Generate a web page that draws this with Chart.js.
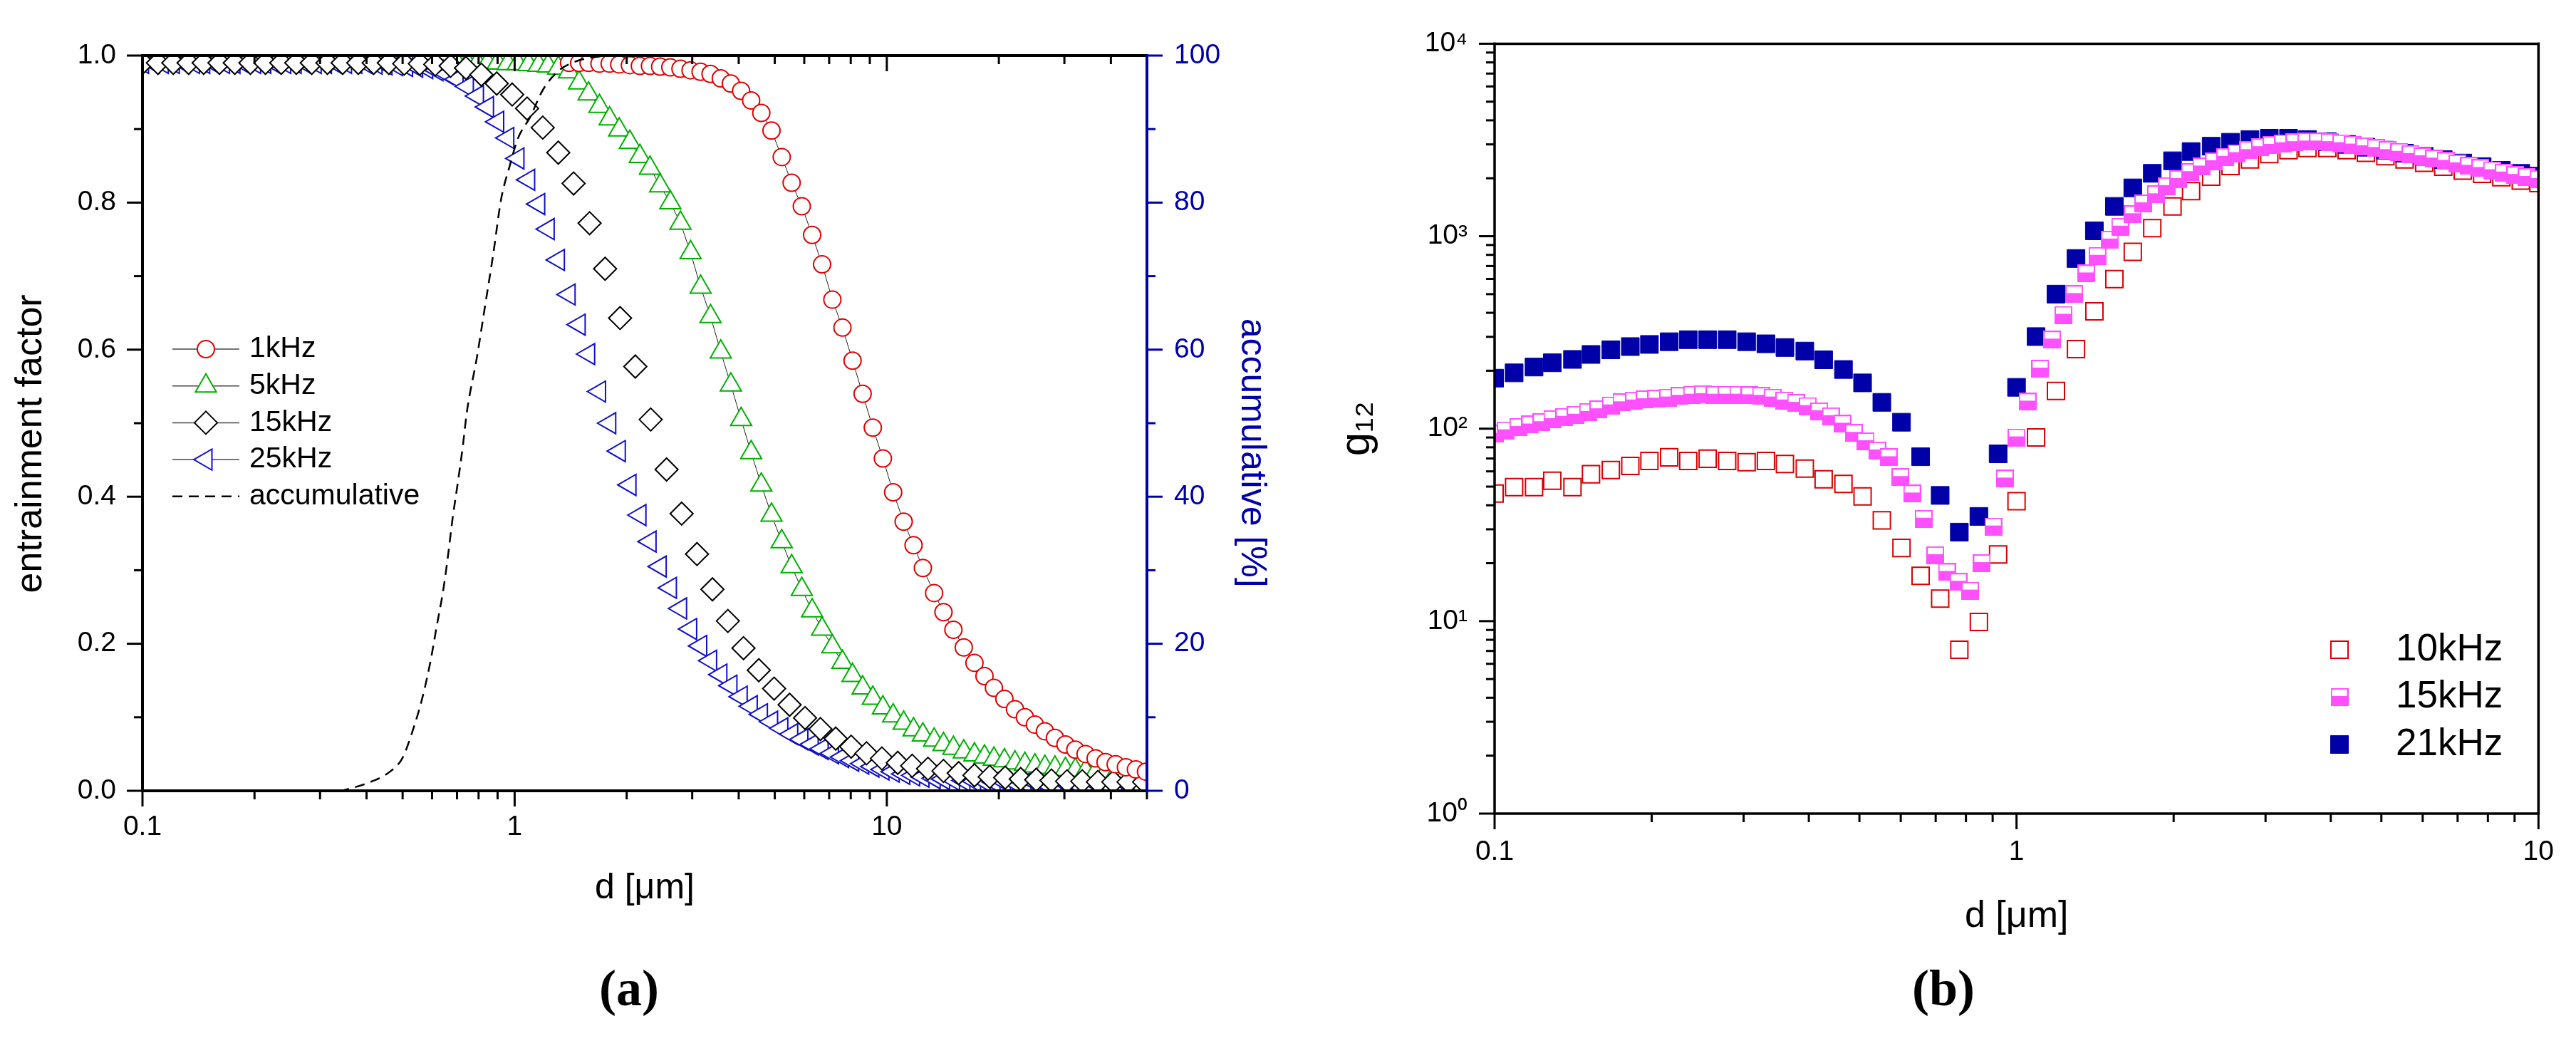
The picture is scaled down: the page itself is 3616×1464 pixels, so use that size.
<!DOCTYPE html>
<html>
<head>
<meta charset="utf-8">
<script src="https://cdn.jsdelivr.net/npm/chart.js"></script>
<style>
    html, body { margin: 0; padding: 0; background: #fff; }
    body { width: 3616px; height: 1464px; position: relative; overflow: hidden; }
    canvas { position: absolute; top: 0; }
    #chartA { left: 0; }
    #chartB { left: 1810px; }
</style>
</head>
<body>
<canvas id="chartA" width="1810" height="1464"></canvas>
<canvas id="chartB" width="1806" height="1464"></canvas>
<script>
// Police et couleur par defaut
Chart.defaults.font.family = '"Liberation Sans", Arial, sans-serif'
Chart.defaults.color = "#000"

const BLUE_AXIS = "#0000aa"

// ---------- Donnees de la figure (a) ----------
// Grille fine des diametres d [µm] (series 1, 5 et 25 kHz)
const dFine = [
    0.100, 0.107, 0.113, 0.121, 0.129, 0.137, 0.146, 0.155, 0.165, 0.176,
    0.187, 0.200, 0.213, 0.226, 0.241, 0.257, 0.273, 0.291, 0.310, 0.330,
    0.351, 0.374, 0.398, 0.424, 0.451, 0.481, 0.512, 0.545, 0.580, 0.618,
    0.658, 0.700, 0.746, 0.794, 0.845, 0.900, 0.958, 1.02, 1.09, 1.16,
    1.23, 1.31, 1.40, 1.49, 1.58, 1.69, 1.80, 1.91, 2.04, 2.17,
    2.31, 2.46, 2.62, 2.79, 2.97, 3.16, 3.36, 3.58, 3.81, 4.06,
    4.32, 4.60, 4.90, 5.22, 5.55, 5.91, 6.30, 6.70, 7.14, 7.60,
    8.09, 8.61, 9.17, 9.76, 10.4, 11.1, 11.8, 12.5, 13.4, 14.2,
    15.1, 16.1, 17.2, 18.3, 19.4, 20.7, 22.1, 23.5, 25.0, 26.6,
    28.3, 30.2, 32.1, 34.2, 36.4, 38.7, 41.2, 43.9, 46.7, 49.7
]
// Grille plus large pour la serie 15 kHz
const dCoarse = [
    0.100, 0.110, 0.121, 0.133, 0.146, 0.161, 0.177, 0.195, 0.214, 0.236,
    0.259, 0.285, 0.314, 0.345, 0.380, 0.418, 0.459, 0.505, 0.556, 0.612,
    0.673, 0.740, 0.814, 0.895, 0.985, 1.08, 1.19, 1.31, 1.44, 1.59,
    1.75, 1.92, 2.11, 2.32, 2.56, 2.81, 3.09, 3.40, 3.74, 4.12,
    4.53, 4.98, 5.48, 6.03, 6.63, 7.29, 8.02, 8.82, 9.70, 10.7,
    11.7, 12.9, 14.2, 15.6, 17.2, 18.9, 20.8, 22.9, 25.2, 27.7,
    30.5, 33.5, 36.9, 40.6, 44.6, 49.1
]
// Facteur d'entrainement (les series finissent toutes en fin de grille)
const ent1kHz = [ // a partir de d = 1.40
    0.990, 0.990, 0.990, 0.989, 0.989, 0.988, 0.987, 0.986,
    0.986, 0.985, 0.984, 0.982, 0.980, 0.978, 0.975, 0.969, 0.962, 0.952,
    0.939, 0.922, 0.898, 0.862, 0.827, 0.795, 0.756, 0.716, 0.668, 0.630,
    0.585, 0.540, 0.494, 0.452, 0.406, 0.366, 0.334, 0.303, 0.269, 0.243,
    0.219, 0.195, 0.174, 0.156, 0.140, 0.125, 0.111, 0.100, 0.090, 0.081,
    0.072, 0.063, 0.056, 0.050, 0.044, 0.039, 0.036, 0.032, 0.029, 0.026
]
const ent5kHz = [ // a partir de d = 0.70
    0.990, 0.990, 0.990, 0.990, 0.990, 0.989, 0.989, 0.988, 0.987,
    0.986, 0.983, 0.978, 0.963, 0.948, 0.931, 0.914, 0.899, 0.882, 0.863,
    0.847, 0.823, 0.800, 0.772, 0.732, 0.685, 0.645, 0.597, 0.552, 0.505,
    0.460, 0.416, 0.375, 0.339, 0.305, 0.274, 0.245, 0.220, 0.196, 0.175,
    0.157, 0.140, 0.126, 0.113, 0.102, 0.092, 0.083, 0.076, 0.069, 0.063,
    0.058, 0.053, 0.049, 0.046, 0.043, 0.041, 0.038, 0.036, 0.034, 0.032,
    0.031, 0.029, 0.028, 0.027, 0.026, 0.025, 0.024, 0.023, 0.022, 0.021
]
const ent15kHz = [ // sur dCoarse
    0.990, 0.990, 0.990, 0.990, 0.990, 0.990, 0.990, 0.990, 0.990, 0.990,
    0.990, 0.990, 0.990, 0.990, 0.990, 0.990, 0.990, 0.989, 0.989, 0.988,
    0.986, 0.983, 0.974, 0.962, 0.947, 0.928, 0.902, 0.868, 0.826, 0.772,
    0.710, 0.643, 0.577, 0.505, 0.437, 0.377, 0.322, 0.274, 0.231, 0.194,
    0.164, 0.139, 0.117, 0.099, 0.084, 0.071, 0.060, 0.051, 0.044, 0.038,
    0.034, 0.030, 0.027, 0.024, 0.021, 0.019, 0.018, 0.016, 0.015, 0.014,
    0.013, 0.013, 0.012, 0.012, 0.012, 0.012
]
const ent25kHz = [ // toute la grille fine
    0.990, 0.990, 0.990, 0.990, 0.990, 0.990, 0.990, 0.990, 0.990, 0.990,
    0.990, 0.990, 0.990, 0.990, 0.990, 0.990, 0.990, 0.990, 0.990, 0.990,
    0.990, 0.990, 0.990, 0.989, 0.988, 0.987, 0.986, 0.985, 0.983, 0.980,
    0.975, 0.968, 0.958, 0.945, 0.930, 0.910, 0.888, 0.860, 0.831, 0.798,
    0.764, 0.722, 0.675, 0.634, 0.594, 0.543, 0.500, 0.462, 0.416, 0.375,
    0.339, 0.305, 0.276, 0.248, 0.220, 0.197, 0.177, 0.158, 0.143, 0.128,
    0.115, 0.104, 0.094, 0.085, 0.077, 0.070, 0.063, 0.057, 0.051, 0.046,
    0.041, 0.037, 0.033, 0.029, 0.026, 0.023, 0.021, 0.019, 0.017, 0.016,
    0.015, 0.014, 0.013, 0.013, 0.012, 0.012, 0.011, 0.011, 0.011, 0.010,
    0.010, 0.010, 0.010, 0.010, 0.010, 0.010, 0.010, 0.010, 0.010, 0.010
]
// Courbe accumulative [%] (axe de droite)
const dAcc = [0.10, 0.20, 0.30, 0.34, 0.36, 0.40, 0.465, 0.50, 0.53, 0.566, 0.594, 0.618, 0.643, 0.663, 0.681, 0.703,
    0.725, 0.744, 0.792, 0.833, 0.876, 0.92, 0.97, 1.02, 1.10, 1.19, 1.31, 1.46, 1.65, 2.0, 5.0, 50]
const accPct = [0, 0, 0, 0, 0.3, 1, 2.7, 4.5, 7.9, 12.8, 17.6, 22.5, 27.3, 32.2, 37, 41.8,
    46.7, 51.5, 59, 66, 73, 80.5, 85, 88.7, 91.6, 95.3, 97.9, 99.2, 99.8, 100, 100, 100]
// Graduations de la figure (a)
const xTicksA = [0.1, 0.2, 0.3, 0.4, 0.5, 0.6, 0.7, 0.8, 0.9, 1, 2, 3, 4, 5, 6, 7, 8, 9, 10, 20, 30, 40, 50]
const xLabelsA = [0.1, 1, 10]
const yTicksA = [0, 0.1, 0.2, 0.3, 0.4, 0.5, 0.6, 0.7, 0.8, 0.9, 1]
const yLabelsA = [0, 0.2, 0.4, 0.6, 0.8, 1]
const y2TicksA = [0, 10, 20, 30, 40, 50, 60, 70, 80, 90, 100]
const y2LabelsA = [0, 20, 40, 60, 80, 100]

// ---------- Donnees de la figure (b) ----------
const dB = [
    0.100, 0.109, 0.119, 0.129, 0.141, 0.153, 0.167, 0.182, 0.198, 0.216,
    0.235, 0.256, 0.279, 0.304, 0.331, 0.360, 0.393, 0.427, 0.466, 0.507,
    0.552, 0.602, 0.655, 0.714, 0.777, 0.847, 0.922, 1.00, 1.09, 1.19,
    1.30, 1.41, 1.54, 1.67, 1.82, 1.99, 2.16, 2.36, 2.57, 2.80,
    3.05, 3.32, 3.61, 3.94, 4.29, 4.67, 5.09, 5.54, 6.04, 6.57,
    7.16, 7.80, 8.49, 9.25, 10.0
]
// La serie 15 kHz a plus de points
const dB15 = [
    0.100, 0.105, 0.111, 0.117, 0.123, 0.129, 0.136, 0.143, 0.151, 0.158,
    0.167, 0.175, 0.185, 0.194, 0.204, 0.215, 0.226, 0.239, 0.251, 0.264,
    0.278, 0.293, 0.308, 0.324, 0.341, 0.359, 0.378, 0.398, 0.419, 0.441,
    0.464, 0.488, 0.514, 0.541, 0.569, 0.599, 0.631, 0.664, 0.699, 0.736,
    0.774, 0.815, 0.858, 0.903, 0.950, 1.00, 1.05, 1.11, 1.17, 1.23,
    1.29, 1.36, 1.43, 1.51, 1.58, 1.67, 1.75, 1.85, 1.94, 2.04,
    2.15, 2.26, 2.39, 2.51, 2.64, 2.78, 2.93, 3.08, 3.24, 3.41,
    3.59, 3.78, 3.98, 4.19, 4.41, 4.64, 4.88, 5.14, 5.41, 5.69,
    5.99, 6.31, 6.64, 6.99, 7.36, 7.74, 8.15, 8.58, 9.03, 9.50,
    10.0
]
const g10kHz = [
    46, 49.7, 49.7, 53.7, 49.7, 58, 61, 64, 68, 71,
    68, 69.8, 68, 67, 68, 65.5, 62, 54.6, 51.6, 44.5,
    33.4, 24, 17.2, 13.1, 7.1, 9.9, 22.2, 42, 90, 157,
    259, 407, 599, 829, 1101, 1429, 1714, 2040, 2318, 2508,
    2673, 2800, 2870, 2870, 2800, 2710, 2606, 2505, 2409, 2297,
    2193, 2108, 2025, 1947, 1887
]
const g15kHz = [
    94, 98, 102, 105, 108, 112, 115, 118, 122, 126,
    132, 137, 140, 142, 143, 145, 148, 150, 151, 150,
    150, 150, 149, 148, 145, 140, 136, 131, 123, 116,
    106, 95, 86, 77, 71, 56, 46, 34, 22, 18,
    16, 14.4, 20, 31, 55, 90, 138, 205, 290, 390,
    500, 640, 790, 960, 1120, 1300, 1480, 1650, 1820, 1980,
    2150, 2300, 2450, 2580, 2700, 2800, 2900, 2980, 3040, 3080,
    3100, 3100, 3080, 3040, 2990, 2930, 2870, 2800, 2740, 2670,
    2600, 2530, 2460, 2390, 2320, 2260, 2200, 2140, 2080, 2030,
    1980
]
const g21kHz = [
    183, 195, 209, 220, 229, 243, 257, 267, 274, 283,
    290, 290, 290, 283, 276, 264, 253, 228, 203, 173,
    137, 108, 71.5, 45, 29, 35, 74, 164, 301, 500,
    766, 1067, 1429, 1783, 2122, 2466, 2754, 2935, 3077, 3177,
    3228, 3228, 3180, 3100, 3000, 2900, 2800, 2700, 2600, 2500,
    2400, 2300, 2200, 2120, 2050
]
// Graduations de la figure (b)
const xTicksB = [0.1, 0.2, 0.3, 0.4, 0.5, 0.6, 0.7, 0.8, 0.9, 1, 2, 3, 4, 5, 6, 7, 8, 9, 10]
const xLabelsB = [0.1, 1, 10]
const gTicks = [1, 2, 3, 4, 5, 6, 7, 8, 9, 10, 20, 30, 40, 50, 60, 70, 80, 90,
    100, 200, 300, 400, 500, 600, 700, 800, 900, 1000, 2000, 3000, 4000, 5000, 6000, 7000, 8000, 9000, 10000]
const gLabelValues = [1, 10, 100, 1000, 10000]
const gLabelTexts = ["10⁰", "10¹", "10²", "10³", "10⁴"]

// Pour associer chaque valeur a son diametre
function toPoints(xs, ys) {
    const offset = xs.length - ys.length
    return ys.map((y, i) => ({ x: xs[offset + i], y: y }))
}

// Marqueur carre a moitie rempli (serie 15 kHz)
function halfSquare(size, color) {
    const c = document.createElement("canvas")
    c.width = size
    c.height = size
    const g = c.getContext("2d")
    g.fillStyle = color
    g.fillRect(0, 0, size, size)
    g.fillStyle = "#fff"
    g.fillRect(2, 2, size - 4, Math.round(size * 0.42) - 2)
    return c
}

// Plugin pour le cadre et les graduations (style Origin)
const framePlugin = {
    id: "frame",
    afterDatasetsDraw(chart, args, opts) {
        const ctx = chart.ctx
        const a = chart.chartArea
        ctx.save()
        opts.ticks.forEach(t => {
            const scale = chart.scales[t.axis]
            ctx.strokeStyle = t.color || "#000"
            ctx.lineWidth = opts.tickWidth
            t.values.forEach(v => {
                const p = scale.getPixelForValue(v)
                let len = t.major.includes(v) ? opts.majorLen : opts.minorLen
                if (t.inward) len = -len
                ctx.beginPath()
                if (t.side === "bottom") { ctx.moveTo(p, a.bottom); ctx.lineTo(p, a.bottom + len) }
                if (t.side === "top") { ctx.moveTo(p, a.top); ctx.lineTo(p, a.top - len) }
                if (t.side === "left") { ctx.moveTo(a.left, p); ctx.lineTo(a.left - len, p) }
                if (t.side === "right") { ctx.moveTo(a.right, p); ctx.lineTo(a.right + len, p) }
                ctx.stroke()
            })
        })
        ctx.lineCap = "square"
        ctx.lineWidth = opts.lineWidth
        opts.sides.forEach(s => {
            ctx.strokeStyle = s.color
            ctx.beginPath()
            if (s.side === "left") { ctx.moveTo(a.left, a.top); ctx.lineTo(a.left, a.bottom) }
            if (s.side === "right") { ctx.moveTo(a.right, a.top); ctx.lineTo(a.right, a.bottom) }
            if (s.side === "top") { ctx.moveTo(a.left, a.top); ctx.lineTo(a.right, a.top) }
            if (s.side === "bottom") { ctx.moveTo(a.left, a.bottom); ctx.lineTo(a.right, a.bottom) }
            ctx.stroke()
        })
        ctx.restore()
    }
}

// Plugin pour la legende dans la zone du graphique
const legendPlugin = {
    id: "innerLegend",
    afterDraw(chart, args, opts) {
        const ctx = chart.ctx
        ctx.save()
        ctx.font = opts.font
        ctx.textBaseline = "middle"
        opts.items.forEach((dsIndex, row) => {
            const ds = chart.data.datasets[dsIndex]
            const y = opts.top + row * opts.rowGap
            if (opts.lineX) {
                ctx.strokeStyle = ds.borderDash ? ds.borderColor : "#444"
                ctx.lineWidth = ds.borderDash ? ds.borderWidth : 1.5
                ctx.setLineDash(ds.borderDash || [])
                ctx.beginPath()
                ctx.moveTo(opts.lineX[0], y)
                ctx.lineTo(opts.lineX[1], y)
                ctx.stroke()
                ctx.setLineDash([])
            }
            if (ds.pointRadius > 0) {
                ctx.fillStyle = ds.pointBackgroundColor
                ctx.strokeStyle = ds.pointBorderColor
                ctx.lineWidth = ds.pointBorderWidth
                Chart.helpers.drawPoint(ctx, {
                    pointStyle: ds.pointStyle,
                    rotation: ds.pointRotation || 0,
                    radius: ds.pointRadius,
                    borderWidth: ds.pointBorderWidth
                }, opts.markX, y)
            }
            ctx.fillStyle = "#000"
            ctx.fillText(ds.label, opts.textX, y)
        })
        ctx.restore()
    }
}

// Plugin pour le repere (a) / (b) sous chaque figure
const tagPlugin = {
    id: "panelTag",
    afterDraw(chart, args, opts) {
        const ctx = chart.ctx
        ctx.save()
        ctx.font = 'bold 72px "Liberation Serif", "Times New Roman", serif'
        ctx.textAlign = "center"
        ctx.textBaseline = "middle"
        ctx.fillStyle = "#000"
        ctx.fillText(opts.text, opts.x, opts.y)
        ctx.restore()
    }
}

// ---------- Figure (a) ----------
function scatterSet(label, points, style, color, radius, order, withLine, rotation) {
    return {
        label: label,
        data: points,
        showLine: withLine,
        borderColor: "#222",
        borderWidth: 1,
        pointStyle: style,
        pointRotation: rotation || 0,
        pointRadius: radius,
        pointBorderColor: color,
        pointBackgroundColor: "#fff",
        pointBorderWidth: 2,
        order: order
    }
}

new Chart(document.getElementById("chartA"), {
    type: "scatter",
    data: {
        datasets: [
            scatterSet("1kHz", toPoints(dFine, ent1kHz), "circle", "#e00000", 12, 1, true),
            scatterSet("5kHz", toPoints(dFine, ent5kHz), "triangle", "#00b000", 17, 3, true),
            scatterSet("15kHz", toPoints(dCoarse, ent15kHz), "rectRot", "#000", 16, 2, false),
            scatterSet("25kHz", toPoints(dFine, ent25kHz), "triangle", "#1010c8", 17, 4, false, -90),
            {
                label: "accumulative",
                data: toPoints(dAcc, accPct),
                yAxisID: "y2",
                showLine: true,
                borderColor: "#000",
                borderWidth: 2.5,
                borderDash: [14, 9],
                cubicInterpolationMode: "monotone",
                pointRadius: 0,
                order: 0
            }
        ]
    },
    options: {
        responsive: false,
        animation: false,
        devicePixelRatio: 1,
        layout: { padding: { top: 78, left: 0, right: 0, bottom: 0 } },
        scales: {
            x: {
                type: "logarithmic",
                min: 0.1,
                max: 50,
                afterBuildTicks: s => { s.ticks = xTicksA.map(v => ({ value: v })) },
                afterFit: s => { s.height = 354 },
                grid: { display: false, drawTicks: false },
                border: { display: false },
                ticks: {
                    autoSkip: false, maxRotation: 0, padding: 28, font: { size: 39 },
                    callback: v => xLabelsA.includes(v) ? String(v) : ""
                },
                title: { display: true, text: "d [μm]", font: { size: 50 }, padding: { top: 0, bottom: 187 } }
            },
            y: {
                type: "linear",
                position: "left",
                min: 0,
                max: 1,
                afterBuildTicks: s => { s.ticks = yLabelsA.map(v => ({ value: v })) },
                afterFit: s => { s.width = 200 },
                grid: { display: false, drawTicks: false },
                border: { display: false },
                ticks: { padding: 37, font: { size: 39 }, callback: v => v.toFixed(1) },
                // les espaces en fin de texte descendent un peu le titre, comme sur l'original
                title: { display: true, text: "entrainment factor    ", font: { size: 52 }, padding: { top: 12, bottom: 0 } }
            },
            y2: {
                type: "linear",
                position: "right",
                min: 0,
                max: 100,
                afterBuildTicks: s => { s.ticks = y2LabelsA.map(v => ({ value: v })) },
                afterFit: s => { s.width = 200 },
                grid: { display: false, drawTicks: false },
                border: { display: false },
                ticks: { padding: 38, color: BLUE_AXIS, font: { size: 39 }, callback: v => String(v) },
                title: { display: true, text: "      accumulative [%]", color: BLUE_AXIS, font: { size: 50 }, padding: { top: 23, bottom: 0 } }
            }
        },
        plugins: {
            legend: { display: false },
            tooltip: { enabled: false },
            frame: {
                lineWidth: 4, tickWidth: 3, majorLen: 22, minorLen: 12,
                sides: [
                    { side: "left", color: "#000" },
                    { side: "top", color: "#000" },
                    { side: "bottom", color: "#000" },
                    { side: "right", color: BLUE_AXIS }
                ],
                ticks: [
                    { axis: "x", side: "bottom", values: xTicksA, major: xLabelsA },
                    { axis: "x", side: "top", values: xTicksA, major: xLabelsA, inward: true },
                    { axis: "y", side: "left", values: yTicksA, major: yLabelsA },
                    { axis: "y2", side: "right", values: y2TicksA, major: y2LabelsA, color: BLUE_AXIS }
                ]
            },
            innerLegend: {
                font: '41px "Liberation Sans", Arial, sans-serif',
                items: [0, 1, 2, 3, 4],
                top: 490, rowGap: 51.7,
                lineX: [242, 336], markX: 289, textX: 350
            },
            panelTag: { text: "(a)", x: 883, y: 1392 }
        }
    },
    plugins: [framePlugin, legendPlugin, tagPlugin]
})

// ---------- Figure (b) ----------
new Chart(document.getElementById("chartB"), {
    type: "scatter",
    data: {
        datasets: [
            {
                label: "10kHz",
                data: toPoints(dB, g10kHz),
                pointStyle: "rect",
                pointRadius: 17,
                pointBorderColor: "#d80000",
                pointBackgroundColor: "#fff",
                pointBorderWidth: 2,
                order: 3
            },
            {
                label: "15kHz",
                data: toPoints(dB15, g15kHz),
                pointStyle: halfSquare(25, "#ff50ff"),
                pointRadius: 12,
                pointBorderColor: "#ff50ff",
                pointBackgroundColor: "#ff50ff",
                pointBorderWidth: 0,
                order: 1
            },
            {
                label: "21kHz",
                data: toPoints(dB, g21kHz),
                pointStyle: "rect",
                pointRadius: 17.7,
                pointBorderColor: "#0000a8",
                pointBackgroundColor: "#0000a8",
                pointBorderWidth: 1,
                order: 2
            }
        ]
    },
    options: {
        responsive: false,
        animation: false,
        devicePixelRatio: 1,
        layout: { padding: { top: 53, left: 0, right: 31, bottom: 0 } },
        scales: {
            x: {
                type: "logarithmic",
                min: 0.1,
                max: 10,
                afterBuildTicks: s => { s.ticks = xTicksB.map(v => ({ value: v })) },
                afterFit: s => { s.height = 322 },
                grid: { display: false, drawTicks: false },
                border: { display: false },
                ticks: {
                    autoSkip: false, maxRotation: 0, padding: 31, font: { size: 39 },
                    callback: v => xLabelsB.includes(v) ? String(v) : ""
                },
                title: { display: true, text: "d [μm]", font: { size: 52 }, padding: { top: 0, bottom: 146 } }
            },
            y: {
                type: "logarithmic",
                min: 1,
                max: 10000,
                afterBuildTicks: s => { s.ticks = gLabelValues.map(v => ({ value: v })) },
                afterFit: s => { s.width = 288 },
                grid: { display: false, drawTicks: false },
                border: { display: false },
                ticks: {
                    autoSkip: false, padding: 38, font: { size: 39 },
                    callback: v => gLabelTexts[gLabelValues.indexOf(v)]
                },
                title: { display: true, text: "g₁₂", font: { size: 60 }, padding: { top: 59, bottom: 0 } }
            }
        },
        plugins: {
            legend: { display: false },
            tooltip: { enabled: false },
            frame: {
                lineWidth: 3.5, tickWidth: 3, majorLen: 22, minorLen: 12,
                sides: [
                    { side: "left", color: "#000" },
                    { side: "top", color: "#000" },
                    { side: "bottom", color: "#000" },
                    { side: "right", color: "#000" }
                ],
                ticks: [
                    { axis: "x", side: "bottom", values: xTicksB, major: xLabelsB },
                    { axis: "y", side: "left", values: gTicks, major: gLabelValues }
                ]
            },
            innerLegend: {
                font: '53px "Liberation Sans", Arial, sans-serif',
                items: [0, 1, 2],
                top: 912, rowGap: 66.5,
                markX: 1474, textX: 1553
            },
            panelTag: { text: "(b)", x: 918, y: 1392 }
        }
    },
    plugins: [framePlugin, legendPlugin, tagPlugin]
})
</script>
</body>
</html>
